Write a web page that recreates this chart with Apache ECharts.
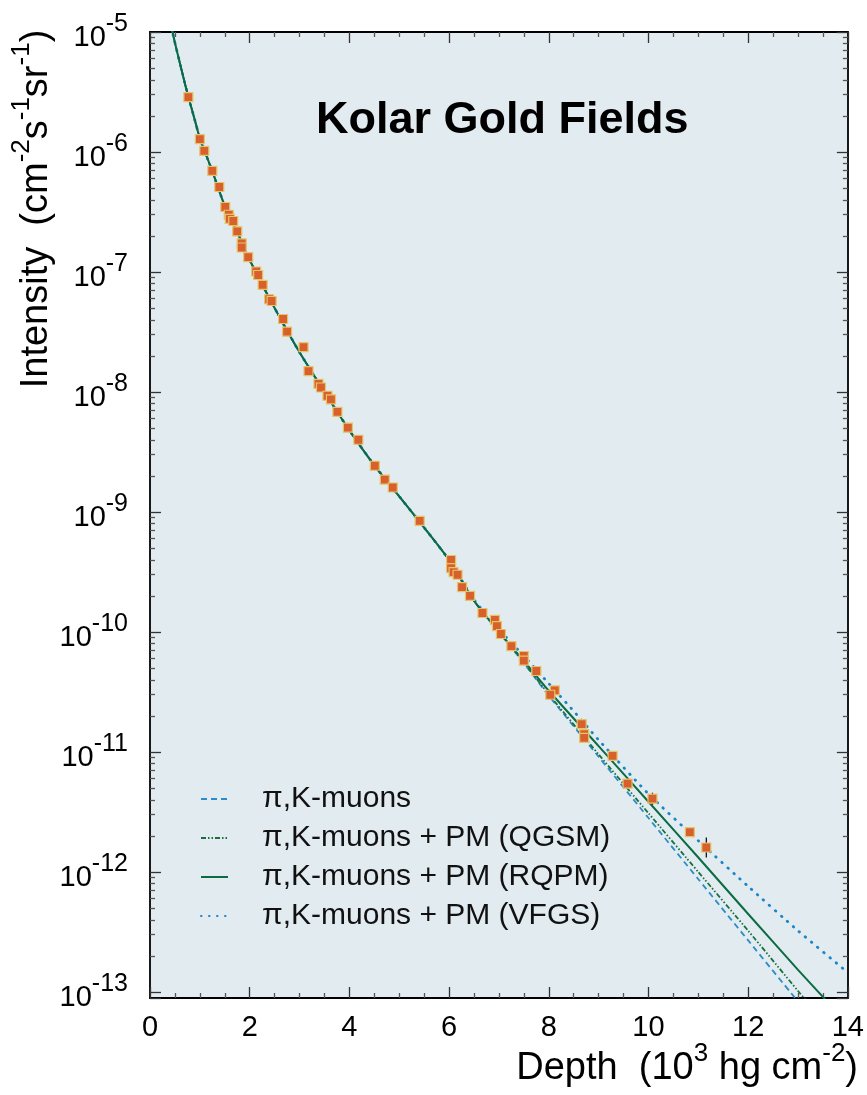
<!DOCTYPE html>
<html>
<head>
<meta charset="utf-8">
<script src="https://cdn.jsdelivr.net/npm/echarts@6/dist/echarts.min.js"></script>
<style>
  html, body { margin: 0; padding: 0; background: #fff; }
  #chart { width: 867px; height: 1095px; }
</style>
</head>
<body>
<div id="chart"></div>
<script>
// measured points (depth in 10^3 hg/cm2, intensity in cm-2 s-1 sr-1)
const pointDepth = [0.77, 1.0, 1.09, 1.25, 1.39, 1.51, 1.58, 1.60, 1.67, 1.75,
    1.84, 1.84, 1.97, 2.13, 2.17, 2.26, 2.39, 2.44, 2.67, 2.75,
    3.08, 3.18, 3.38, 3.43, 3.56, 3.63, 3.76, 3.97, 4.18, 4.51,
    4.71, 4.87, 5.41, 6.04, 6.04, 6.09, 6.17, 6.26, 6.42, 6.67,
    6.92, 6.96, 7.04, 7.25, 7.50, 7.50, 7.75, 8.12, 8.03, 8.66,
    8.71, 8.71, 9.28, 9.58, 10.08, 10.83, 11.16];
const pointIntensity = [2.87e-6, 1.28e-6, 1.02e-6, 6.95e-7, 5.11e-7, 3.48e-7, 3.00e-7, 2.77e-7, 2.66e-7, 2.18e-7,
    1.73e-7, 1.60e-7, 1.33e-7, 1.01e-7, 9.44e-8, 7.80e-8, 5.93e-8, 5.73e-8, 4.06e-8, 3.18e-8,
    2.37e-8, 1.49e-8, 1.17e-8, 1.09e-8, 9.31e-9, 8.67e-9, 6.82e-9, 5.04e-9, 4.00e-9, 2.43e-9,
    1.86e-9, 1.60e-9, 8.45e-10, 3.98e-10, 3.41e-10, 3.16e-10, 3.00e-10, 2.37e-10, 2.00e-10, 1.44e-10,
    1.26e-10, 1.12e-10, 9.62e-11, 7.64e-11, 6.31e-11, 5.77e-11, 4.73e-11, 3.26e-11, 3.00e-11, 1.71e-11,
    1.41e-11, 1.31e-11, 9.27e-12, 5.45e-12, 4.08e-12, 2.15e-12, 1.60e-12];

// error bars on the deepest points
const errDepth = [9.58, 10.08, 10.83, 11.16];
const errLow = [5.14e-12, 3.64e-12, 1.96e-12, 1.32e-12];
const errHigh = [5.78e-12, 4.58e-12, 2.36e-12, 1.94e-12];

// model curves (all four coincide at shallow depth)
const pikDepth = [0.43, 0.5, 0.6, 0.7, 0.77, 0.9, 1.0, 1.25, 1.5, 1.75, 2.0, 2.5, 3.0, 3.5, 4.0, 4.5, 5.0, 5.5, 6.0, 6.5, 7.0,
    7.5, 8.0, 9.0, 10.0, 11.0, 12.0, 13.0];
const pikIntensity = [1.10e-5, 8.13e-6, 5.50e-6, 3.72e-6, 2.88e-6, 1.84e-6, 1.30e-6, 6.92e-7, 3.55e-7, 2.16e-7, 1.26e-7,
    5.01e-8, 2.14e-8, 1.0e-8, 4.79e-9, 2.45e-9, 1.35e-9, 7.41e-10, 3.98e-10, 1.82e-10, 1.0e-10,
    5.50e-11, 2.95e-11, 9.12e-12, 2.82e-12, 8.71e-13, 2.69e-13, 8.32e-14];

const qgsmDepth = [0.43, 0.5, 0.6, 0.7, 0.77, 0.9, 1.0, 1.25, 1.5, 1.75, 2.0, 2.5, 3.0, 3.5, 4.0, 4.5, 5.0, 5.5, 6.0, 6.5, 7.0,
    7.5, 8.0, 9.0, 10.0, 11.0, 12.0, 13.0, 13.2];
const qgsmIntensity = [1.10e-5, 8.13e-6, 5.50e-6, 3.72e-6, 2.88e-6, 1.84e-6, 1.30e-6, 6.92e-7, 3.55e-7, 2.16e-7, 1.26e-7,
    5.01e-8, 2.14e-8, 1.0e-8, 4.79e-9, 2.45e-9, 1.35e-9, 7.41e-10, 3.98e-10, 1.82e-10, 1.0e-10,
    5.56e-11, 3.02e-11, 9.55e-12, 3.09e-12, 1.0e-12, 3.24e-13, 1.02e-13, 8.13e-14];

const rqpmDepth = [0.43, 0.5, 0.6, 0.7, 0.77, 0.9, 1.0, 1.25, 1.5, 1.75, 2.0, 2.5, 3.0, 3.5, 4.0, 4.5, 5.0, 5.5, 6.0, 6.5, 7.0,
    7.5, 8.0, 9.0, 10.0, 11.0, 12.0, 13.0, 13.6];
const rqpmIntensity = [1.10e-5, 8.13e-6, 5.50e-6, 3.72e-6, 2.88e-6, 1.84e-6, 1.30e-6, 6.92e-7, 3.55e-7, 2.16e-7, 1.26e-7,
    5.01e-8, 2.14e-8, 1.0e-8, 4.79e-9, 2.45e-9, 1.35e-9, 7.41e-10, 3.98e-10, 1.82e-10, 1.0e-10,
    5.75e-11, 3.24e-11, 1.12e-11, 3.85e-12, 1.32e-12, 4.47e-13, 1.53e-13, 8.2e-14];

const vfgsDepth = [0.43, 0.5, 0.6, 0.7, 0.77, 0.9, 1.0, 1.25, 1.5, 1.75, 2.0, 2.5, 3.0, 3.5, 4.0, 4.5, 5.0, 5.5, 6.0, 6.5, 7.0,
    7.5, 8.0, 8.5, 9.0, 10.0, 11.0, 12.0, 13.0, 14.0];
const vfgsIntensity = [1.10e-5, 8.13e-6, 5.50e-6, 3.72e-6, 2.88e-6, 1.84e-6, 1.30e-6, 6.92e-7, 3.55e-7, 2.16e-7, 1.26e-7,
    5.01e-8, 2.14e-8, 1.0e-8, 4.79e-9, 2.45e-9, 1.35e-9, 7.41e-10, 3.98e-10, 1.86e-10, 1.05e-10,
    6.31e-11, 3.72e-11, 2.19e-11, 1.26e-11, 4.47e-12, 1.82e-12, 7.59e-13, 3.24e-13, 1.45e-13];

const seriesNames = ['\u03c0,K-muons', '\u03c0,K-muons + PM (QGSM)', '\u03c0,K-muons + PM (RQPM)', '\u03c0,K-muons + PM (VFGS)'];
const yDecades = [-13, -12, -11, -10, -9, -8, -7, -6, -5];

const FONT = '"Liberation Sans", Arial, sans-serif';
const Y_MIN_LOG = -13.05;

function pairs(xs, ys) {
    return xs.map((x, i) => [x, ys[i]]);
}

// minor tick positions of the log axis, 2..9 in each decade
const minorLog = [];
yDecades.slice(0, -1).forEach((d) => {
    for (let k = 2; k <= 9; k++) {
        minorLog.push(d + Math.log10(k));
    }
});

// superscripts: tall base line aligned to bottom, exponent aligned to top
const supRich = {
    b: {fontSize: 29, lineHeight: 41, verticalAlign: 'bottom', fontFamily: FONT, color: '#000'},
    s: {fontSize: 25, lineHeight: 25, verticalAlign: 'top', fontFamily: FONT, color: '#000'},
};
const nameRich = {
    n: {fontSize: 38, lineHeight: 47, verticalAlign: 'bottom', fontFamily: FONT, color: '#000'},
    s: {fontSize: 26, lineHeight: 26, verticalAlign: 'top', fontFamily: FONT, color: '#000'},
};

function logLabel(v) {
    const lg = Math.log10(v);
    const e = Math.round(lg);
    if (Math.abs(lg - e) > 0.01) {
        return '';
    }
    return '{b|10}{s|' + e + '}';
}

const frameLine = {show: true, lineStyle: {color: '#000', width: 1.8}};
const majorTick = {show: true, inside: true, length: 11, lineStyle: {color: '#333', width: 1.3}};
const minorTickStyle = {show: true, inside: true, length: 5, lineStyle: {color: '#555', width: 1.3}};

const option = {
    animation: false,
    title: {
        text: 'Kolar Gold Fields',
        left: 311,
        top: 93,
        textStyle: {fontSize: 45, fontWeight: 'bold', fontFamily: FONT, color: '#000'},
    },
    legend: {
        data: seriesNames,
        orient: 'vertical',
        left: 195,
        top: 779,
        itemWidth: 27,
        itemHeight: 12,
        itemGap: 9,
        itemStyle: {color: 'rgba(0,0,0,0)', borderWidth: 0, opacity: 0},
        textStyle: {fontSize: 30, fontFamily: FONT, color: '#111', lineHeight: 30, padding: [0, 0, 0, 29]},
    },
    grid: {
        left: 150,
        right: 18,
        top: 32,
        bottom: 97,
        show: true,
        backgroundColor: '#e2ebf0',
        borderWidth: 0,
    },
    xAxis: [
        {
            type: 'value',
            min: 0,
            max: 14,
            interval: 2,
            position: 'bottom',
            axisLine: frameLine,
            axisTick: majorTick,
            minorTick: {show: true, splitNumber: 4, length: 5, lineStyle: {color: '#555', width: 1.3}},
            splitLine: {show: false},
            axisLabel: {fontSize: 29, fontFamily: FONT, color: '#000', margin: 15},
        },
        {
            type: 'value',
            min: 0,
            max: 14,
            interval: 2,
            position: 'top',
            axisLine: frameLine,
            axisTick: majorTick,
            minorTick: {show: true, splitNumber: 4, length: 5, lineStyle: {color: '#555', width: 1.3}},
            splitLine: {show: false},
            axisLabel: {show: false},
        },
    ],
    yAxis: [
        {
            type: 'log',
            logBase: 10,
            min: Math.pow(10, Y_MIN_LOG),
            max: 1e-5,
            splitNumber: 8,
            position: 'left',
            axisLine: frameLine,
            axisTick: majorTick,
            splitLine: {show: false},
            axisLabel: {formatter: logLabel, rich: supRich, margin: 22, showMinLabel: true, showMaxLabel: true},
        },
        {
            type: 'value',
            min: Y_MIN_LOG,
            max: -5,
            position: 'left',
            axisLine: {show: false},
            axisTick: Object.assign({customValues: minorLog}, minorTickStyle),
            splitLine: {show: false},
            axisLabel: {show: false},
        },
        {
            type: 'log',
            logBase: 10,
            min: Math.pow(10, Y_MIN_LOG),
            max: 1e-5,
            splitNumber: 8,
            position: 'right',
            axisLine: frameLine,
            axisTick: majorTick,
            splitLine: {show: false},
            axisLabel: {show: false},
        },
        {
            type: 'value',
            min: Y_MIN_LOG,
            max: -5,
            position: 'right',
            axisLine: {show: false},
            axisTick: Object.assign({customValues: minorLog}, minorTickStyle),
            splitLine: {show: false},
            axisLabel: {show: false},
        },
    ],
    graphic: [
        {
            type: 'text',
            x: 32,
            y: 209,
            rotation: Math.PI / 2,
            style: {
                text: '{n|Intensity  (cm}{s|-2}{n|s}{s|-1}{n|sr}{s|-1}{n|)}',
                rich: nameRich,
                align: 'center',
                verticalAlign: 'middle',
            },
        },
        {
            type: 'text',
            x: 858,
            y: 1064,
            style: {
                text: '{n|Depth  (10}{s|3}{n| hg cm}{s|-2}{n|)}',
                rich: nameRich,
                align: 'right',
                verticalAlign: 'middle',
            },
        },
    ],
    series: [
        {
            name: seriesNames[0],
            type: 'line',
            data: pairs(pikDepth, pikIntensity),
            symbol: 'none',
            smooth: 0.2,
            clip: true,
            color: '#2a8cc8',
            lineStyle: {color: '#2a8cc8', width: 1.8, type: [6, 4]},
            z: 3,
        },
        {
            name: seriesNames[1],
            type: 'line',
            data: pairs(qgsmDepth, qgsmIntensity),
            symbol: 'none',
            smooth: 0.2,
            clip: true,
            color: '#17703f',
            lineStyle: {color: '#17703f', width: 1.8, type: [5, 2, 1.5, 2, 1.5, 2]},
            z: 3,
        },
        {
            name: seriesNames[2],
            type: 'line',
            data: pairs(rqpmDepth, rqpmIntensity),
            symbol: 'none',
            smooth: 0.2,
            clip: true,
            color: '#0b6b42',
            lineStyle: {color: '#0b6b42', width: 2},
            z: 4,
        },
        {
            name: seriesNames[3],
            type: 'line',
            data: pairs(vfgsDepth, vfgsIntensity),
            symbol: 'none',
            smooth: 0.2,
            clip: true,
            color: '#1a86c8',
            lineStyle: {color: '#1a86c8', width: 2.8, type: [0.5, 7.5], cap: 'round'},
            z: 3,
        },
        {
            name: 'errors',
            type: 'custom',
            data: errDepth.map((d, i) => [d, errLow[i], errHigh[i]]),
            renderItem(params, api) {
                const lo = api.coord([api.value(0), api.value(1)]);
                const hi = api.coord([api.value(0), api.value(2)]);
                return {
                    type: 'line',
                    shape: {x1: lo[0], y1: lo[1], x2: hi[0], y2: hi[1]},
                    style: {stroke: '#000', lineWidth: 1.2},
                };
            },
            encode: {x: 0, y: [1, 2]},
            z: 5,
        },
        {
            name: 'data',
            type: 'scatter',
            data: pairs(pointDepth, pointIntensity),
            symbol: 'rect',
            symbolSize: 9,
            itemStyle: {color: '#d8602c', borderColor: '#e6c46c', borderWidth: 1.2, opacity: 1},
            z: 6,
        },
    ],
};

const chart = echarts.init(document.getElementById('chart'));
chart.setOption(option);
</script>
</body>
</html>
